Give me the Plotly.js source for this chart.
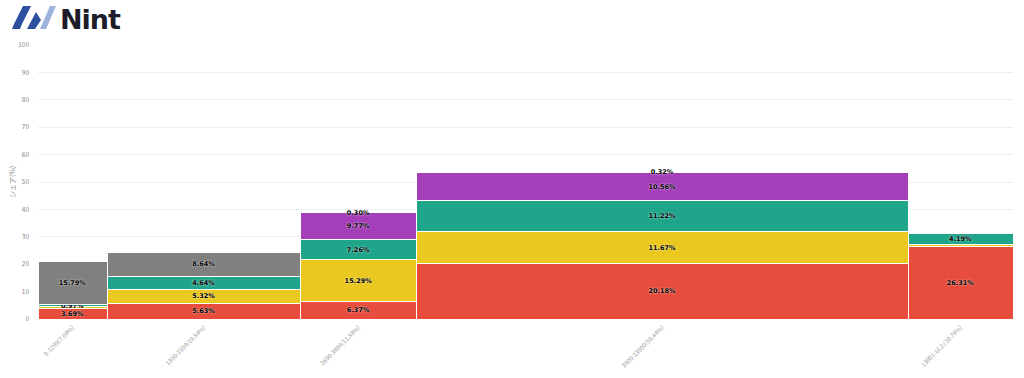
<!DOCTYPE html>
<html><head><meta charset="utf-8">
<script src="https://cdn.plot.ly/plotly-3.0.1.min.js"></script>
<style>
html,body{margin:0;padding:0;background:#fff;}
#wrap{position:relative;width:1024px;height:378px;}
#chart{width:1024px;height:378px;}
#logo{position:absolute;left:0;top:0;width:140px;height:36px;}
</style></head>
<body><div id="wrap"><div id="chart"></div>
<svg id="logo" viewBox="0 0 140 36" xmlns="http://www.w3.org/2000/svg">
  <polygon points="14,24 23,6 31,6 22,24" fill="#2d4f9e"/>
  <polygon points="14,24 22,24 20,29 12,29" fill="#2d4f9e"/>
  <polygon points="27,29 36,12 41,20 35,29" fill="#2d4f9e"/>
  <polygon points="40,29 50,6 56,6 46,29" fill="#9fb3dd"/>
  <text x="60" y="29" font-family="DejaVu Sans, sans-serif" font-weight="bold" font-size="27" fill="#1c1c2a" letter-spacing="-1">Nint</text>
</svg>
</div>
<script>
var categories = ["0-1299(7.08%)", "1300-2599(19.84%)", "2600-3899(11.88%)", "3900-13000(50.44%)", "13001-以上(10.76%)"];
var widths = [7.08, 19.84, 11.88, 50.44, 10.76];
var seriesNames = ["A", "B", "C", "D", "E"];
var red    = [3.69, 5.63, 6.37, 20.18, 26.31];
var yellow = [0.70, 5.32, 15.29, 11.67, 0.82];
var teal   = [0.97, 4.64, 7.26, 11.22, 4.19];
var purple = [0, 0, 9.77, 10.56, 0];
var gray   = [15.79, 8.64, 0.30, 0.32, 0];
var yTicks = [0, 10, 20, 30, 40, 50, 60, 70, 80, 90, 100];

var xs = [], start = 0;
for (var i = 0; i < widths.length; i++) { xs.push(start + widths[i] / 2); start += widths[i]; }

var tf = {family: 'DejaVu Sans, sans-serif', size: 6.5, color: '#000000', weight: 'bold',
  shadow: '0 0 2px #ffffff'};
function mk(vals, name, color, pos) {
  return {
    type: 'bar', name: name, x: xs, y: vals, width: widths,
    marker: {color: color, line: {color: '#ffffff', width: 1}},
    text: vals.map(function(v){ return v > 0 ? v.toFixed(2) + '%' : ''; }),
    textposition: pos, insidetextanchor: 'middle', constraintext: 'none',
    textfont: tf, insidetextfont: tf, outsidetextfont: tf,
    hoverinfo: 'none', showlegend: false
  };
}
var data = [
  mk(red, seriesNames[0], '#e74c3c', 'inside'),
  mk(yellow, seriesNames[1], '#ebc81f', ['none','inside','inside','inside','none']),
  mk(teal, seriesNames[2], '#1fa58a', 'inside'),
  mk(purple, seriesNames[3], '#a53eb9', 'inside'),
  mk(gray, seriesNames[4], '#808080', 'inside')
];
var layout = {
  width: 1024, height: 378,
  margin: {l: 38, r: 11, t: 45, b: 59},
  barmode: 'stack', bargap: 0,
  paper_bgcolor: '#fff', plot_bgcolor: '#fff',
  font: {family: 'Noto Sans CJK JP, DejaVu Sans, sans-serif', color: '#888'},
  xaxis: {range: [0, 100], tickmode: 'array', tickvals: xs, ticktext: categories,
    tickangle: -45, tickfont: {size: 6, color: '#999'}, showgrid: false, zeroline: false,
    showline: false, ticks: '', ticklabelstandoff: 3},
  yaxis: {range: [0, 100], tickmode: 'array', tickvals: yTicks, tickfont: {size: 6.5, color: '#888'},
    gridcolor: '#eeeeee', zeroline: false, showline: false, ticks: '', ticklabelstandoff: 8,
    title: {text: 'シェア(%)', font: {size: 7, color: '#888'}, standoff: 1}},
  uniformtext: {mode: false}
};
Plotly.newPlot('chart', data, layout, {displayModeBar: false, staticPlot: true});
</script></body></html>
